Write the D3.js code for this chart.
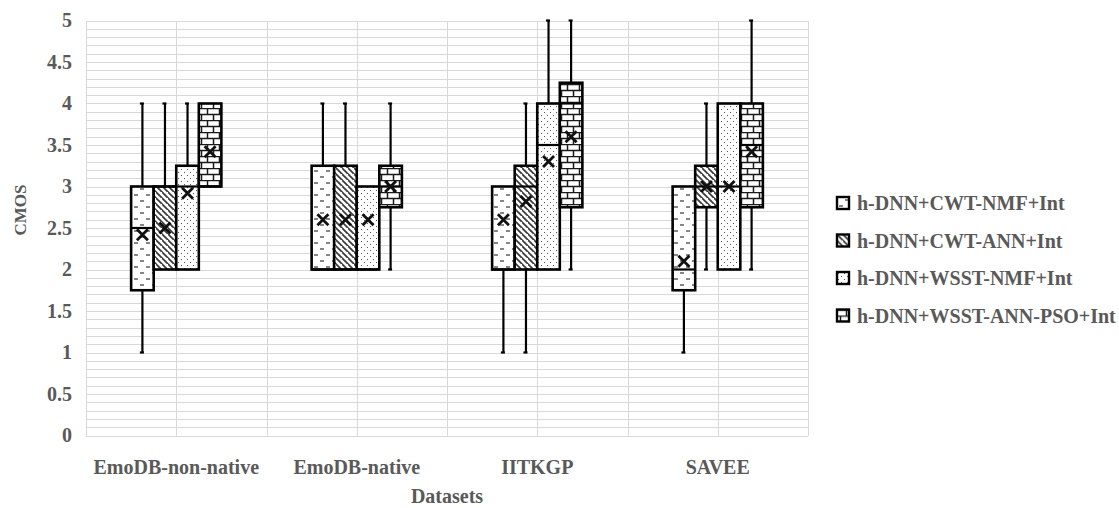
<!DOCTYPE html>
<html>
<head>
<meta charset="utf-8">
<script src="https://cdn.jsdelivr.net/npm/d3@7"></script>
<style>
  html, body { margin: 0; padding: 0; background: #fff; }
  svg { display: block; }
  text { font-family: "Liberation Serif", "Times New Roman", serif; font-weight: bold; fill: #595959; }
</style>
</head>
<body>
<svg id="chart" width="1119" height="508"></svg>
<script>
// Datasets on the x axis
const categories = ["EmoDB-non-native", "EmoDB-native", "IITKGP", "SAVEE"];

// Methods compared (one box per dataset each)
const seriesNames = [
  "h-DNN+CWT-NMF+Int",
  "h-DNN+CWT-ANN+Int",
  "h-DNN+WSST-NMF+Int",
  "h-DNN+WSST-ANN-PSO+Int"
];

// Five-number summaries and means, one array per method, ordered like categories
const cwtNmfMin    = [1,    2,    1,    1];
const cwtNmfQ1     = [1.75, 2,    2,    1.75];
const cwtNmfMedian = [2.5,  2,    2,    2];
const cwtNmfQ3     = [3,    3.25, 3,    3];
const cwtNmfMax    = [4,    4,    3,    3];
const cwtNmfMean   = [2.42, 2.6,  2.6,  2.1];

const cwtAnnMin    = [2,    2,    1,    2];
const cwtAnnQ1     = [2,    2,    2,    2.75];
const cwtAnnMedian = [3,    2,    3,    3];
const cwtAnnQ3     = [3,    3.25, 3.25, 3.25];
const cwtAnnMax    = [4,    4,    4,    4];
const cwtAnnMean   = [2.5,  2.6,  2.82, 3];

const wsstNmfMin    = [2,    2,    2,    2];
const wsstNmfQ1     = [2,    2,    2,    2];
const wsstNmfMedian = [3,    2,    3.5,  3];
const wsstNmfQ3     = [3.25, 3,    4,    4];
const wsstNmfMax    = [4,    3,    5,    4];
const wsstNmfMean   = [2.92, 2.6,  3.3,  3];

const wsstPsoMin    = [3,    2,    2,    2];
const wsstPsoQ1     = [3,    2.75, 2.75, 2.75];
const wsstPsoMedian = [3,    3,    4,    3.5];
const wsstPsoQ3     = [4,    3.25, 4.25, 4];
const wsstPsoMax    = [4,    4,    5,    5];
const wsstPsoMean   = [3.42, 3,    3.6,  3.42];

// Y axis ticks
const yTicks = [0, 0.5, 1, 1.5, 2, 2.5, 3, 3.5, 4, 4.5, 5];

const summaries = [
  { min: cwtNmfMin,  q1: cwtNmfQ1,  median: cwtNmfMedian,  q3: cwtNmfQ3,  max: cwtNmfMax,  mean: cwtNmfMean },
  { min: cwtAnnMin,  q1: cwtAnnQ1,  median: cwtAnnMedian,  q3: cwtAnnQ3,  max: cwtAnnMax,  mean: cwtAnnMean },
  { min: wsstNmfMin, q1: wsstNmfQ1, median: wsstNmfMedian, q3: wsstNmfQ3, max: wsstNmfMax, mean: wsstNmfMean },
  { min: wsstPsoMin, q1: wsstPsoQ1, median: wsstPsoMedian, q3: wsstPsoQ3, max: wsstPsoMax, mean: wsstPsoMean }
];

const boxes = [];
seriesNames.forEach((name, s) => {
  categories.forEach((cat, c) => {
    const d = summaries[s];
    boxes.push({
      series: name, s, category: cat,
      min: d.min[c], q1: d.q1[c], median: d.median[c], q3: d.q3[c], max: d.max[c], mean: d.mean[c]
    });
  });
});

const svg = d3.select("#chart");
const plot = { left: 86, right: 808, top: 20.5, bottom: 435.5 };
const fontSize = 20;

const y = d3.scaleLinear().domain([0, 5]).range([plot.bottom, plot.top]);
const x0 = d3.scaleBand().domain(categories).range([plot.left, plot.right]).padding(0);
const x1 = d3.scaleBand().domain(seriesNames).range([0, x0.bandwidth()]).paddingInner(0).paddingOuter(2);

// ---- fill patterns, one per method ----
const defs = svg.append("defs");
const ink = "#1a1a1a";

// horizontal dashes
const p0 = defs.append("pattern").attr("id", "pat0").attr("patternUnits", "userSpaceOnUse")
  .attr("width", 12).attr("height", 12);
p0.append("rect").attr("width", 12).attr("height", 12).attr("fill", "#fff");
p0.append("line").attr("x1", 2).attr("x2", 6).attr("y1", 3).attr("y2", 3).attr("stroke", "#444").attr("stroke-width", 1.3);
p0.append("line").attr("x1", 8).attr("x2", 12).attr("y1", 9).attr("y2", 9).attr("stroke", "#444").attr("stroke-width", 1.3);

// wide downward diagonal
const p1 = defs.append("pattern").attr("id", "pat1").attr("patternUnits", "userSpaceOnUse")
  .attr("width", 6).attr("height", 6);
p1.append("rect").attr("width", 6).attr("height", 6).attr("fill", "#fff");
p1.append("path").attr("d", "M-1,-1 L7,7 M-4,2 L2,8 M4,-4 L10,2").attr("stroke", "#3a3a3a").attr("stroke-width", 1.7);

// small dots
const p2 = defs.append("pattern").attr("id", "pat2").attr("patternUnits", "userSpaceOnUse")
  .attr("width", 6).attr("height", 6);
p2.append("rect").attr("width", 6).attr("height", 6).attr("fill", "#fff");
p2.append("rect").attr("x", 1).attr("y", 1).attr("width", 1).attr("height", 1).attr("fill", "#555");
p2.append("rect").attr("x", 4).attr("y", 4).attr("width", 1).attr("height", 1).attr("fill", "#555");

// horizontal brick
const p3 = defs.append("pattern").attr("id", "pat3").attr("patternUnits", "userSpaceOnUse")
  .attr("width", 12).attr("height", 12);
p3.append("rect").attr("width", 12).attr("height", 12).attr("fill", "#fff");
p3.append("path")
  .attr("d", "M0,0.5 H12 M0,6.5 H12 M3.5,0 V6 M9.5,6 V12")
  .attr("stroke", ink).attr("stroke-width", 1.5).attr("fill", "none");

// ---- gridlines ----
const grid = svg.append("g").attr("stroke", "#d9d9d9").attr("stroke-width", 1).attr("shape-rendering", "crispEdges");
d3.range(0, 51).forEach(i => {
  const v = i / 10;
  grid.append("line").attr("x1", plot.left).attr("x2", plot.right)
    .attr("y1", Math.round(y(v)) + 0.5).attr("y2", Math.round(y(v)) + 0.5);
});
const vLines = [];
categories.forEach(c => {
  vLines.push(x0(c));
  vLines.push(x0(c) + x0.bandwidth() / 2);
});
vLines.push(plot.right);
vLines.forEach(xv => {
  grid.append("line").attr("x1", Math.round(xv) + 0.5).attr("x2", Math.round(xv) + 0.5)
    .attr("y1", plot.top).attr("y2", plot.bottom);
});

// ---- axes labels ----
const yAxis = d3.axisLeft(y).tickValues(yTicks).tickSize(0).tickPadding(0).tickFormat(d3.format("~g"));
const yg = svg.append("g").attr("transform", `translate(${72},0)`).call(yAxis);
yg.select(".domain").remove();
yg.selectAll("text").attr("font-size", fontSize).attr("font-family", "Liberation Serif").attr("font-weight", "bold").attr("fill", "#595959");

const xAxis = d3.axisBottom(x0).tickSize(0).tickPadding(0);
const xg = svg.append("g").attr("transform", `translate(0,${460})`).call(xAxis);
xg.select(".domain").remove();
xg.selectAll("text").attr("font-size", fontSize).attr("font-family", "Liberation Serif").attr("font-weight", "bold").attr("fill", "#595959");

svg.append("text").attr("x", 447).attr("y", 503)
  .attr("text-anchor", "middle").attr("font-size", fontSize).text("Datasets");
svg.append("text").attr("transform", `translate(26,${210}) rotate(-90)`)
  .attr("text-anchor", "middle").attr("font-size", 17).text("CMOS");

// ---- box plots ----
const bw = x1.bandwidth();
const g = svg.append("g");
boxes.forEach(d => {
  const left = x0(d.category) + x1(d.series);
  const cx = left + bw / 2;
  const bx = g.append("g");
  // whiskers
  if (d.max > d.q3) {
    bx.append("line").attr("x1", cx).attr("x2", cx).attr("y1", y(d.q3)).attr("y2", y(d.max))
      .attr("stroke", "#000").attr("stroke-width", 2.2);
    bx.append("line").attr("x1", cx - 2.5).attr("x2", cx + 1.5).attr("y1", y(d.max)).attr("y2", y(d.max))
      .attr("stroke", "#000").attr("stroke-width", 2.2);
  }
  if (d.min < d.q1) {
    bx.append("line").attr("x1", cx).attr("x2", cx).attr("y1", y(d.q1)).attr("y2", y(d.min))
      .attr("stroke", "#000").attr("stroke-width", 2.2);
    bx.append("line").attr("x1", cx - 2.5).attr("x2", cx + 1.5).attr("y1", y(d.min)).attr("y2", y(d.min))
      .attr("stroke", "#000").attr("stroke-width", 2.2);
  }
});
boxes.forEach(d => {
  const left = x0(d.category) + x1(d.series);
  const cx = left + bw / 2;
  const bx = g.append("g");
  bx.append("rect").attr("x", left).attr("width", bw)
    .attr("y", y(d.q3)).attr("height", y(d.q1) - y(d.q3))
    .attr("fill", `url(#pat${d.s})`).attr("stroke", "#000").attr("stroke-width", 2.6);
  bx.append("line").attr("x1", left).attr("x2", left + bw).attr("y1", y(d.median)).attr("y2", y(d.median))
    .attr("stroke", "#000").attr("stroke-width", 2.2);
  // mean marker
  const m = 5.5, my = y(d.mean);
  bx.append("path").attr("d", `M${cx - m},${my - m} L${cx + m},${my + m} M${cx - m},${my + m} L${cx + m},${my - m}`)
    .attr("stroke", "#111").attr("stroke-width", 2.8).attr("fill", "none");
});

// ---- legend ----
const lg = svg.append("g").attr("transform", "translate(837,203)");
seriesNames.forEach((name, i) => {
  const row = lg.append("g").attr("transform", `translate(0,${i * 37.5})`);
  row.append("rect").attr("x", 0).attr("y", -6).attr("width", 12).attr("height", 12)
    .attr("fill", `url(#pat${i})`).attr("stroke", "#000").attr("stroke-width", 2.4);
  row.append("text").attr("x", 20).attr("y", 0).attr("dy", "0.35em").attr("font-size", fontSize).text(name);
});
</script>
</body>
</html>
